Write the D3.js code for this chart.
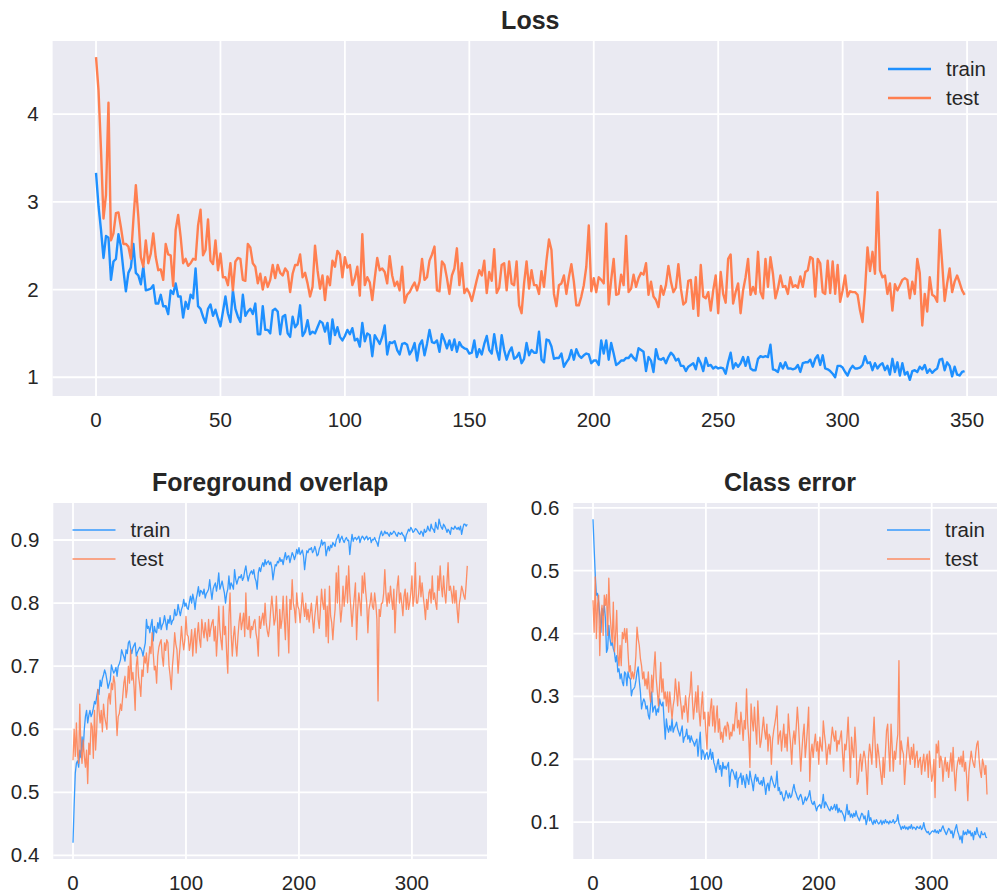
<!DOCTYPE html>
<html>
<head>
<meta charset="utf-8">
<script src="https://cdn.jsdelivr.net/npm/d3@7"></script>
<style>
  html, body { margin: 0; padding: 0; background: #fff; overflow: hidden; }
  svg { display: block; font-family: "Liberation Sans", Arial, sans-serif; }
</style>
</head>
<body>
<div id="chart"></div>
<script>
// per-epoch values (epochs 0..349)
const lossTrain = [
  3.33, 2.95, 2.68, 2.36, 2.61, 2.59, 2.11, 2.32, 2.35, 2.63,
  2.49, 2.22, 1.98, 2.19, 2.25, 2.52, 2.19, 2.16, 2.06, 2.26,
  1.99, 2.00, 2.01, 2.05, 1.84, 1.84, 1.94, 1.81, 1.81, 1.72,
  1.99, 1.95, 2.07, 1.92, 1.92, 1.68, 1.86, 1.78, 1.94, 1.90,
  2.24, 1.81, 1.78, 1.69, 1.62, 1.78, 1.83, 1.70, 1.77, 1.67,
  1.58, 1.75, 1.92, 1.73, 1.63, 1.99, 1.78, 1.69, 1.63, 1.94,
  1.70, 1.75, 1.78, 1.72, 1.84, 1.49, 1.49, 1.81, 1.54, 1.54,
  1.50, 1.76, 1.78, 1.75, 1.49, 1.69, 1.71, 1.50, 1.46, 1.69,
  1.57, 1.61, 1.82, 1.47, 1.52, 1.65, 1.49, 1.52, 1.50, 1.57,
  1.64, 1.62, 1.52, 1.62, 1.38, 1.66, 1.48, 1.57, 1.46, 1.42,
  1.47, 1.54, 1.49, 1.56, 1.42, 1.44, 1.35, 1.62, 1.41, 1.50,
  1.48, 1.24, 1.48, 1.43, 1.38, 1.46, 1.59, 1.26, 1.40, 1.39,
  1.41, 1.31, 1.26, 1.38, 1.39, 1.37, 1.26, 1.31, 1.39, 1.19,
  1.37, 1.42, 1.25, 1.38, 1.54, 1.40, 1.39, 1.42, 1.29, 1.49,
  1.42, 1.33, 1.42, 1.31, 1.43, 1.29, 1.40, 1.35, 1.33, 1.32,
  1.27, 1.28, 1.42, 1.23, 1.32, 1.26, 1.38, 1.47, 1.31, 1.27,
  1.49, 1.31, 1.20, 1.48, 1.31, 1.20, 1.29, 1.34, 1.21, 1.23,
  1.28, 1.16, 1.21, 1.39, 1.25, 1.31, 1.28, 1.28, 1.52, 1.20,
  1.17, 1.43, 1.42, 1.35, 1.21, 1.22, 1.22, 1.27, 1.12, 1.17,
  1.21, 1.31, 1.20, 1.32, 1.25, 1.22, 1.25, 1.27, 1.26, 1.16,
  1.19, 1.19, 1.14, 1.42, 1.27, 1.42, 1.20, 1.39, 1.27, 1.14,
  1.16, 1.19, 1.19, 1.22, 1.22, 1.26, 1.22, 1.19, 1.33, 1.31,
  1.29, 1.07, 1.23, 1.19, 1.06, 1.32, 1.21, 1.20, 1.22, 1.16,
  1.23, 1.28, 1.25, 1.19, 1.21, 1.13, 1.13, 1.07, 1.12, 1.14,
  1.16, 1.09, 1.22, 1.16, 1.07, 1.22, 1.13, 1.14, 1.10, 1.12,
  1.10, 1.11, 1.10, 1.04, 1.17, 1.28, 1.10, 1.16, 1.12, 1.16,
  1.23, 1.13, 1.23, 1.10, 1.08, 1.08, 1.21, 1.24, 1.23, 1.24,
  1.23, 1.37, 1.09, 1.08, 1.06, 1.16, 1.10, 1.17, 1.10, 1.10,
  1.09, 1.10, 1.14, 1.06, 1.16, 1.17, 1.17, 1.20, 1.12, 1.21,
  1.25, 1.14, 1.25, 1.10, 1.09, 1.07, 1.04, 1.00, 1.13, 1.13,
  1.11, 1.06, 1.02, 1.09, 1.13, 1.10, 1.10, 1.11, 1.14, 1.24,
  1.16, 1.17, 1.08, 1.16, 1.10, 1.14, 1.16, 1.08, 1.13, 1.03,
  1.21, 1.06, 1.17, 1.02, 1.16, 1.03, 1.06, 0.97, 1.07, 1.08,
  1.06, 1.12, 1.09, 1.14, 1.05, 1.09, 1.05, 1.08, 1.10, 1.20,
  1.21, 1.08, 1.17, 1.13, 1.01, 1.12, 1.03, 1.02, 1.06, 1.07
]
const lossTest = [
  4.65, 4.27, 3.59, 2.81, 3.08, 4.13, 2.56, 2.64, 2.87, 2.88,
  2.71, 2.52, 2.52, 2.49, 2.35, 2.79, 3.19, 2.83, 2.37, 2.26,
  2.56, 2.30, 2.41, 2.64, 2.37, 2.22, 2.23, 2.11, 2.52, 2.40,
  2.39, 2.04, 2.68, 2.85, 2.60, 2.30, 2.35, 2.27, 2.30, 2.35,
  2.34, 2.73, 2.91, 2.39, 2.45, 2.80, 2.33, 2.29, 2.56, 2.22,
  2.41, 2.14, 2.14, 2.05, 2.30, 1.99, 2.32, 2.36, 2.35, 2.11,
  2.10, 2.52, 2.48, 2.30, 2.26, 2.07, 2.18, 2.00, 2.14, 2.03,
  2.11, 2.28, 2.13, 2.28, 2.19, 2.16, 2.24, 2.20, 1.97, 2.18,
  2.28, 2.28, 2.40, 2.14, 2.19, 2.07, 1.92, 2.03, 2.50, 2.22,
  2.01, 2.16, 1.88, 2.15, 2.05, 2.33, 2.26, 2.44, 2.40, 2.14,
  2.37, 2.25, 2.28, 2.05, 2.13, 2.26, 1.93, 2.63, 2.05, 2.14,
  2.08, 1.88, 2.13, 2.36, 2.22, 2.24, 2.20, 2.07, 2.38, 2.16,
  2.04, 2.09, 1.99, 2.26, 1.85, 1.94, 1.97, 2.03, 2.08, 1.99,
  2.09, 2.35, 2.11, 2.14, 2.33, 2.40, 2.49, 1.99, 1.98, 2.32,
  2.28, 2.13, 1.95, 2.16, 2.24, 2.47, 2.05, 2.30, 1.96, 2.01,
  1.96, 1.87, 1.99, 2.11, 2.22, 2.16, 2.33, 1.96, 2.20, 2.10,
  2.46, 1.96, 2.02, 2.28, 2.30, 1.99, 2.32, 2.07, 2.05, 2.32,
  1.82, 1.73, 2.07, 2.32, 2.01, 2.22, 2.05, 2.05, 1.95, 2.21,
  2.03, 2.33, 2.57, 2.45, 1.95, 1.81, 2.05, 2.07, 2.16, 1.95,
  2.14, 2.29, 2.09, 1.82, 1.82, 1.92, 2.05, 2.26, 2.73, 1.98,
  2.13, 1.97, 2.14, 2.11, 2.07, 2.75, 1.83, 2.11, 2.35, 1.94,
  1.95, 2.17, 2.05, 2.61, 1.97, 2.01, 2.17, 2.03, 2.13, 2.19,
  2.17, 2.30, 1.94, 2.09, 1.92, 1.88, 1.80, 2.04, 1.94, 2.05,
  2.27, 2.09, 1.97, 2.02, 2.29, 2.01, 1.83, 1.86, 2.10, 2.11,
  1.78, 2.14, 1.70, 2.28, 1.92, 1.90, 1.97, 1.76, 1.99, 2.16,
  1.73, 2.20, 1.95, 1.85, 2.35, 2.40, 1.84, 1.97, 2.07, 1.73,
  1.99, 2.14, 2.35, 1.94, 2.03, 1.95, 2.43, 1.97, 1.90, 2.35,
  2.03, 2.37, 2.18, 1.90, 2.01, 2.16, 2.03, 2.04, 1.95, 2.14,
  2.03, 2.05, 2.02, 2.15, 2.03, 2.20, 2.22, 2.37, 2.35, 1.92,
  2.35, 2.30, 1.97, 1.95, 2.33, 1.96, 2.32, 1.95, 2.28, 1.86,
  1.99, 2.16, 1.92, 1.98, 1.97, 1.97, 1.94, 1.76, 1.63, 1.99,
  2.48, 2.21, 2.43, 2.18, 3.11, 2.22, 2.14, 2.16, 1.95, 2.07,
  1.76, 2.06, 1.99, 2.05, 2.11, 2.13, 2.11, 1.90, 2.09, 1.95,
  2.35, 2.19, 1.59, 1.95, 1.75, 2.14, 1.94, 1.92, 1.86, 2.68,
  2.30, 1.87, 2.07, 2.24, 1.97, 2.09, 2.16, 2.08, 1.99, 1.94
]
const fgTrain = [
  0.420, 0.480, 0.530, 0.546, 0.550, 0.540, 0.567, 0.555, 0.588, 0.567,
  0.600, 0.620, 0.630, 0.610, 0.622, 0.630, 0.620, 0.625, 0.633, 0.644,
  0.640, 0.652, 0.663, 0.655, 0.678, 0.668, 0.680, 0.686, 0.694, 0.688,
  0.678, 0.665, 0.672, 0.678, 0.702, 0.695, 0.689, 0.692, 0.698, 0.684,
  0.700, 0.704, 0.710, 0.726, 0.720, 0.715, 0.708, 0.726, 0.720, 0.737,
  0.740, 0.728, 0.720, 0.729, 0.733, 0.737, 0.716, 0.722, 0.726, 0.730,
  0.728, 0.724, 0.716, 0.728, 0.737, 0.774, 0.760, 0.763, 0.753, 0.765,
  0.774, 0.740, 0.763, 0.755, 0.753, 0.769, 0.760, 0.777, 0.758, 0.765,
  0.769, 0.780, 0.770, 0.758, 0.774, 0.768, 0.780, 0.766, 0.772, 0.774,
  0.790, 0.780, 0.782, 0.798, 0.788, 0.780, 0.790, 0.795, 0.806, 0.795,
  0.800, 0.792, 0.790, 0.802, 0.811, 0.800, 0.814, 0.805, 0.790, 0.806,
  0.815, 0.826, 0.811, 0.820, 0.818, 0.814, 0.822, 0.808, 0.815, 0.818,
  0.822, 0.837, 0.820, 0.806, 0.822, 0.828, 0.832, 0.819, 0.830, 0.848,
  0.822, 0.828, 0.835, 0.825, 0.816, 0.800, 0.815, 0.822, 0.843, 0.822,
  0.832, 0.828, 0.822, 0.853, 0.838, 0.830, 0.837, 0.842, 0.840, 0.845,
  0.836, 0.840, 0.851, 0.859, 0.845, 0.835, 0.843, 0.848, 0.851, 0.846,
  0.853, 0.840, 0.835, 0.822, 0.848, 0.856, 0.850, 0.859, 0.864, 0.858,
  0.869, 0.861, 0.865, 0.867, 0.861, 0.865, 0.856, 0.837, 0.850, 0.861,
  0.859, 0.866, 0.864, 0.872, 0.866, 0.869, 0.861, 0.872, 0.880, 0.869,
  0.874, 0.875, 0.864, 0.872, 0.880, 0.876, 0.869, 0.875, 0.885, 0.878,
  0.888, 0.877, 0.880, 0.884, 0.875, 0.853, 0.870, 0.883, 0.880, 0.886,
  0.885, 0.888, 0.880, 0.883, 0.890, 0.884, 0.875, 0.877, 0.886, 0.890,
  0.900, 0.892, 0.896, 0.896, 0.875, 0.884, 0.890, 0.883, 0.892, 0.888,
  0.896, 0.893, 0.890, 0.900, 0.904, 0.909, 0.896, 0.902, 0.906, 0.900,
  0.896, 0.901, 0.904, 0.899, 0.900, 0.877, 0.895, 0.909, 0.898, 0.903,
  0.904, 0.900, 0.903, 0.906, 0.896, 0.902, 0.906, 0.904, 0.900, 0.904,
  0.906, 0.900, 0.903, 0.904, 0.896, 0.901, 0.900, 0.904, 0.899, 0.896,
  0.890, 0.902, 0.909, 0.914, 0.907, 0.909, 0.914, 0.910, 0.912, 0.909,
  0.906, 0.912, 0.909, 0.911, 0.914, 0.912, 0.908, 0.906, 0.912, 0.910,
  0.909, 0.912, 0.908, 0.906, 0.898, 0.908, 0.912, 0.917, 0.914, 0.920,
  0.917, 0.912, 0.914, 0.918, 0.917, 0.914, 0.911, 0.909, 0.914, 0.912,
  0.906, 0.917, 0.912, 0.914, 0.922, 0.916, 0.914, 0.925, 0.918, 0.917,
  0.912, 0.928, 0.920, 0.917, 0.933, 0.925, 0.920, 0.917, 0.925, 0.922,
  0.918, 0.912, 0.917, 0.914, 0.909, 0.920, 0.918, 0.917, 0.922, 0.919,
  0.917, 0.920, 0.916, 0.922, 0.909, 0.918, 0.925, 0.925, 0.922, 0.925
]
const fgTest = [
  0.551, 0.600, 0.557, 0.610, 0.560, 0.546, 0.640, 0.567, 0.546, 0.583,
  0.557, 0.540, 0.567, 0.514, 0.578, 0.560, 0.610, 0.604, 0.554, 0.630,
  0.567, 0.600, 0.663, 0.630, 0.610, 0.630, 0.596, 0.640, 0.620, 0.610,
  0.600, 0.647, 0.657, 0.640, 0.673, 0.663, 0.684, 0.673, 0.630, 0.590,
  0.620, 0.625, 0.640, 0.630, 0.652, 0.673, 0.684, 0.650, 0.663, 0.700,
  0.673, 0.726, 0.678, 0.690, 0.668, 0.630, 0.700, 0.716, 0.684, 0.670,
  0.652, 0.694, 0.684, 0.716, 0.705, 0.721, 0.690, 0.710, 0.731, 0.720,
  0.753, 0.721, 0.694, 0.700, 0.673, 0.716, 0.730, 0.737, 0.742, 0.715,
  0.700, 0.737, 0.725, 0.742, 0.737, 0.700, 0.684, 0.663, 0.700, 0.721,
  0.753, 0.735, 0.726, 0.689, 0.715, 0.737, 0.763, 0.740, 0.726, 0.742,
  0.779, 0.750, 0.747, 0.725, 0.737, 0.758, 0.716, 0.745, 0.760, 0.721,
  0.750, 0.769, 0.742, 0.730, 0.774, 0.758, 0.745, 0.769, 0.753, 0.740,
  0.774, 0.747, 0.760, 0.769, 0.774, 0.740, 0.763, 0.716, 0.750, 0.795,
  0.758, 0.740, 0.726, 0.795, 0.750, 0.763, 0.720, 0.689, 0.779, 0.816,
  0.750, 0.716, 0.747, 0.763, 0.735, 0.716, 0.747, 0.770, 0.784, 0.758,
  0.770, 0.784, 0.747, 0.816, 0.760, 0.758, 0.779, 0.745, 0.763, 0.758,
  0.770, 0.774, 0.752, 0.742, 0.716, 0.779, 0.760, 0.774, 0.784, 0.765,
  0.800, 0.769, 0.755, 0.747, 0.763, 0.790, 0.811, 0.790, 0.765, 0.774,
  0.811, 0.770, 0.716, 0.790, 0.760, 0.774, 0.811, 0.775, 0.742, 0.811,
  0.770, 0.721, 0.806, 0.790, 0.837, 0.800, 0.790, 0.769, 0.816, 0.795,
  0.790, 0.769, 0.790, 0.816, 0.795, 0.779, 0.800, 0.774, 0.790, 0.770,
  0.784, 0.800, 0.775, 0.753, 0.779, 0.795, 0.811, 0.774, 0.760, 0.790,
  0.822, 0.800, 0.790, 0.822, 0.747, 0.795, 0.737, 0.827, 0.780, 0.769,
  0.742, 0.770, 0.790, 0.848, 0.800, 0.859, 0.800, 0.770, 0.790, 0.827,
  0.795, 0.815, 0.843, 0.800, 0.859, 0.816, 0.790, 0.763, 0.790, 0.810,
  0.832, 0.742, 0.790, 0.816, 0.800, 0.780, 0.843, 0.816, 0.848, 0.820,
  0.800, 0.753, 0.790, 0.800, 0.816, 0.795, 0.790, 0.816, 0.800, 0.774,
  0.645, 0.790, 0.779, 0.800, 0.800, 0.816, 0.853, 0.815, 0.795, 0.816,
  0.800, 0.827, 0.806, 0.790, 0.822, 0.753, 0.800, 0.827, 0.843, 0.800,
  0.816, 0.800, 0.780, 0.811, 0.822, 0.790, 0.816, 0.790, 0.800, 0.816,
  0.843, 0.795, 0.811, 0.864, 0.800, 0.800, 0.816, 0.843, 0.810, 0.832,
  0.811, 0.795, 0.774, 0.806, 0.790, 0.816, 0.822, 0.800, 0.843, 0.806,
  0.816, 0.800, 0.790, 0.843, 0.820, 0.859, 0.827, 0.810, 0.843, 0.816,
  0.800, 0.832, 0.864, 0.820, 0.827, 0.816, 0.800, 0.827, 0.800, 0.820,
  0.790, 0.769, 0.800, 0.811, 0.827, 0.820, 0.811, 0.806, 0.830, 0.859
]
const clsTrain = [
  0.582, 0.536, 0.493, 0.461, 0.464, 0.450, 0.429, 0.402, 0.440, 0.429,
  0.445, 0.424, 0.370, 0.376, 0.413, 0.392, 0.381, 0.386, 0.376, 0.370,
  0.355, 0.365, 0.339, 0.344, 0.328, 0.336, 0.323, 0.317, 0.339, 0.336,
  0.317, 0.339, 0.330, 0.328, 0.301, 0.310, 0.312, 0.315, 0.325, 0.339,
  0.347, 0.325, 0.307, 0.280, 0.290, 0.296, 0.291, 0.280, 0.285, 0.270,
  0.264, 0.285, 0.307, 0.275, 0.282, 0.285, 0.270, 0.280, 0.275, 0.296,
  0.288, 0.285, 0.291, 0.260, 0.232, 0.264, 0.250, 0.243, 0.253, 0.245,
  0.264, 0.243, 0.250, 0.253, 0.259, 0.248, 0.243, 0.237, 0.245, 0.253,
  0.227, 0.235, 0.237, 0.248, 0.232, 0.238, 0.227, 0.237, 0.230, 0.227,
  0.221, 0.228, 0.232, 0.205, 0.225, 0.243, 0.200, 0.215, 0.211, 0.200,
  0.208, 0.211, 0.200, 0.205, 0.216, 0.200, 0.211, 0.195, 0.189, 0.179,
  0.192, 0.200, 0.184, 0.190, 0.173, 0.195, 0.185, 0.189, 0.184, 0.190,
  0.195, 0.157, 0.178, 0.184, 0.181, 0.175, 0.168, 0.180, 0.155, 0.170,
  0.171, 0.178, 0.160, 0.174, 0.165, 0.155, 0.176, 0.168, 0.160, 0.181,
  0.170, 0.162, 0.150, 0.168, 0.176, 0.165, 0.171, 0.162, 0.160, 0.166,
  0.158, 0.171, 0.160, 0.144, 0.158, 0.162, 0.150, 0.165, 0.173, 0.166,
  0.160, 0.155, 0.162, 0.181, 0.150, 0.155, 0.144, 0.148, 0.140, 0.134,
  0.140, 0.150, 0.144, 0.138, 0.146, 0.139, 0.142, 0.152, 0.160, 0.150,
  0.145, 0.139, 0.135, 0.141, 0.144, 0.138, 0.128, 0.132, 0.140, 0.134,
  0.138, 0.142, 0.150, 0.136, 0.130, 0.128, 0.133, 0.125, 0.118, 0.124,
  0.126, 0.128, 0.122, 0.130, 0.144, 0.123, 0.132, 0.128, 0.124, 0.120,
  0.118, 0.125, 0.120, 0.123, 0.128, 0.119, 0.128, 0.115, 0.122, 0.116,
  0.118, 0.114, 0.110, 0.102, 0.115, 0.128, 0.112, 0.118, 0.108, 0.113,
  0.107, 0.114, 0.109, 0.118, 0.110, 0.106, 0.102, 0.108, 0.114, 0.112,
  0.105, 0.110, 0.096, 0.104, 0.118, 0.102, 0.107, 0.100, 0.096, 0.103,
  0.098, 0.104, 0.100, 0.097, 0.099, 0.103, 0.096, 0.102, 0.098, 0.104,
  0.099, 0.101, 0.097, 0.102, 0.099, 0.100, 0.104, 0.098, 0.101, 0.102,
  0.112, 0.098, 0.094, 0.088, 0.093, 0.090, 0.094, 0.089, 0.092, 0.088,
  0.093, 0.090, 0.096, 0.089, 0.092, 0.091, 0.088, 0.093, 0.091, 0.090,
  0.094, 0.088, 0.091, 0.099, 0.090, 0.086, 0.083, 0.085, 0.080, 0.082,
  0.085, 0.086, 0.084, 0.088, 0.083, 0.086, 0.082, 0.088, 0.085, 0.090,
  0.094, 0.088, 0.084, 0.080, 0.085, 0.090, 0.088, 0.082, 0.086, 0.075,
  0.083, 0.090, 0.096, 0.085, 0.080, 0.072, 0.078, 0.067, 0.086, 0.080,
  0.084, 0.080, 0.088, 0.082, 0.086, 0.078, 0.083, 0.072, 0.085, 0.080,
  0.091, 0.082, 0.078, 0.075, 0.085, 0.080, 0.080, 0.083, 0.076, 0.075
]
const clsTest = [
  0.453, 0.402, 0.490, 0.392, 0.445, 0.461, 0.365, 0.429, 0.445, 0.397,
  0.461, 0.445, 0.462, 0.397, 0.488, 0.434, 0.408, 0.386, 0.450, 0.371,
  0.397, 0.437, 0.365, 0.349, 0.381, 0.349, 0.402, 0.392, 0.408, 0.386,
  0.408, 0.371, 0.339, 0.349, 0.328, 0.339, 0.328, 0.339, 0.365, 0.410,
  0.392, 0.381, 0.360, 0.349, 0.328, 0.339, 0.317, 0.328, 0.312, 0.339,
  0.307, 0.291, 0.334, 0.307, 0.344, 0.371, 0.328, 0.307, 0.285, 0.317,
  0.354, 0.307, 0.328, 0.296, 0.307, 0.285, 0.307, 0.275, 0.307, 0.285,
  0.264, 0.285, 0.296, 0.328, 0.307, 0.285, 0.323, 0.301, 0.285, 0.264,
  0.285, 0.275, 0.301, 0.280, 0.259, 0.296, 0.307, 0.339, 0.296, 0.264,
  0.285, 0.307, 0.275, 0.317, 0.275, 0.253, 0.285, 0.307, 0.264, 0.275,
  0.243, 0.216, 0.275, 0.253, 0.280, 0.296, 0.253, 0.285, 0.243, 0.264,
  0.285, 0.243, 0.264, 0.232, 0.243, 0.227, 0.248, 0.253, 0.237, 0.259,
  0.253, 0.232, 0.243, 0.237, 0.256, 0.245, 0.270, 0.290, 0.250, 0.262,
  0.240, 0.275, 0.255, 0.230, 0.262, 0.248, 0.312, 0.258, 0.232, 0.187,
  0.288, 0.262, 0.245, 0.283, 0.250, 0.224, 0.293, 0.255, 0.219, 0.229,
  0.248, 0.267, 0.245, 0.232, 0.256, 0.213, 0.240, 0.235, 0.192, 0.230,
  0.245, 0.256, 0.268, 0.285, 0.224, 0.238, 0.245, 0.213, 0.235, 0.256,
  0.219, 0.240, 0.213, 0.272, 0.245, 0.224, 0.192, 0.230, 0.245, 0.224,
  0.250, 0.283, 0.256, 0.220, 0.181, 0.213, 0.238, 0.256, 0.203, 0.224,
  0.250, 0.283, 0.165, 0.210, 0.224, 0.203, 0.225, 0.240, 0.213, 0.228,
  0.192, 0.235, 0.220, 0.213, 0.261, 0.240, 0.224, 0.192, 0.215, 0.224,
  0.208, 0.232, 0.251, 0.238, 0.229, 0.245, 0.213, 0.230, 0.224, 0.235,
  0.245, 0.210, 0.181, 0.224, 0.215, 0.235, 0.267, 0.220, 0.171, 0.235,
  0.215, 0.203, 0.251, 0.220, 0.160, 0.165, 0.195, 0.208, 0.181, 0.200,
  0.213, 0.203, 0.180, 0.144, 0.203, 0.224, 0.210, 0.192, 0.235, 0.267,
  0.220, 0.187, 0.224, 0.210, 0.192, 0.175, 0.160, 0.203, 0.171, 0.210,
  0.245, 0.256, 0.215, 0.181, 0.256, 0.220, 0.181, 0.213, 0.200, 0.224,
  0.240, 0.357, 0.192, 0.229, 0.215, 0.208, 0.160, 0.190, 0.213, 0.235,
  0.210, 0.192, 0.219, 0.200, 0.224, 0.187, 0.205, 0.213, 0.187, 0.198,
  0.203, 0.176, 0.195, 0.208, 0.181, 0.200, 0.208, 0.171, 0.213, 0.190,
  0.165, 0.176, 0.200, 0.139, 0.224, 0.210, 0.229, 0.187, 0.205, 0.197,
  0.165, 0.190, 0.203, 0.181, 0.195, 0.171, 0.192, 0.210, 0.181, 0.219,
  0.180, 0.150, 0.181, 0.195, 0.203, 0.192, 0.205, 0.188, 0.213, 0.181,
  0.195, 0.171, 0.134, 0.180, 0.197, 0.213, 0.200, 0.192, 0.187, 0.210,
  0.224, 0.229, 0.200, 0.181, 0.171, 0.200, 0.192, 0.176, 0.190, 0.144
]

const seriesNames = ['train', 'test']
const colors = ['#1e90ff', '#ff7f50']

const lossTicksX = [0, 50, 100, 150, 200, 250, 300, 350]
const lossTicksY = [1, 2, 3, 4]
const smallTicksX = [0, 100, 200, 300]
const fgTicksY = [0.4, 0.5, 0.6, 0.7, 0.8, 0.9]
const clsTicksY = [0.1, 0.2, 0.3, 0.4, 0.5, 0.6]

const W = 997, H = 893
const textColor = '#262626'

const svg = d3.select('#chart').append('svg')
  .attr('width', W)
  .attr('height', H)

function drawPanel(p) {
  const n = p.series[0].length
  const all = p.series.flat()
  const [lo, hi] = d3.extent(all)
  const pad = (hi - lo) * 0.05

  const x = d3.scaleLinear()
    .domain([-(n - 1) * 0.05, (n - 1) * 1.05])
    .range([p.left, p.right])
  const y = d3.scaleLinear()
    .domain([lo - pad, hi + pad])
    .range([p.bottom, p.top])

  const g = svg.append('g')

  g.append('rect')
    .attr('x', p.left).attr('y', p.top)
    .attr('width', p.right - p.left).attr('height', p.bottom - p.top)
    .style('fill', '#eaeaf2')

  // grid
  g.selectAll('.gx').data(p.ticksX).enter().append('line')
    .attr('x1', d => x(d)).attr('x2', d => x(d))
    .attr('y1', p.top).attr('y2', p.bottom)
    .style('stroke', '#fff').style('stroke-width', 1.8)
  g.selectAll('.gy').data(p.ticksY).enter().append('line')
    .attr('x1', p.left).attr('x2', p.right)
    .attr('y1', d => y(d)).attr('y2', d => y(d))
    .style('stroke', '#fff').style('stroke-width', 1.8)

  // tick labels
  g.selectAll('.tx').data(p.ticksX).enter().append('text')
    .attr('x', d => x(d)).attr('y', p.bottom + 31)
    .attr('text-anchor', 'middle')
    .style('font-size', '20.5px').style('fill', textColor)
    .text(d => d)
  g.selectAll('.ty').data(p.ticksY).enter().append('text')
    .attr('x', p.left - 14).attr('y', d => y(d) + 7)
    .attr('text-anchor', 'end')
    .style('font-size', '20.5px').style('fill', textColor)
    .text(d => p.fmtY(d))

  g.append('text')
    .attr('x', (p.left + p.right) / 2 - (p.titleShift || 0)).attr('y', p.top - 12)
    .attr('text-anchor', 'middle')
    .style('font-size', '25px').style('font-weight', 'bold').style('fill', textColor)
    .text(p.title)

  const line = d3.line()
    .x((d, i) => x(i))
    .y(d => y(d))

  p.series.forEach((s, k) => {
    g.append('path')
      .datum(s)
      .attr('d', line)
      .style('fill', 'none')
      .style('stroke', colors[k])
      .style('stroke-width', p.lw)
      .style('stroke-opacity', p.alpha)
      .style('stroke-linejoin', 'round')
  })

  // legend
  seriesNames.forEach((name, k) => {
    const ly = p.legendY + k * 29
    g.append('line')
      .attr('x1', p.legendX).attr('x2', p.legendX + 43)
      .attr('y1', ly).attr('y2', ly)
      .style('stroke', colors[k])
      .style('stroke-width', p.lw)
      .style('stroke-opacity', p.alpha)
    g.append('text')
      .attr('x', p.legendX + 58).attr('y', ly + 7)
      .style('font-size', '20.5px').style('fill', textColor)
      .text(name)
  })
}

drawPanel({
  title: 'Loss', series: [lossTrain, lossTest],
  left: 52.6, right: 1008, top: 41, bottom: 396,
  ticksX: lossTicksX, ticksY: lossTicksY, fmtY: d3.format('d'),
  lw: 2.4, alpha: 1, legendX: 888, legendY: 69, titleShift: 0
})

drawPanel({
  title: 'Foreground overlap', series: [fgTrain, fgTest],
  left: 53.3, right: 487, top: 503, bottom: 859,
  ticksX: smallTicksX, ticksY: fgTicksY, fmtY: d3.format('.1f'),
  lw: 1.3, alpha: 0.88, legendX: 72.5, legendY: 530
})

drawPanel({
  title: 'Class error', series: [clsTrain, clsTest],
  left: 573.3, right: 1006.7, top: 503, bottom: 859,
  ticksX: smallTicksX, ticksY: clsTicksY, fmtY: d3.format('.1f'),
  lw: 1.3, alpha: 0.88, legendX: 887, legendY: 530
})
</script>
